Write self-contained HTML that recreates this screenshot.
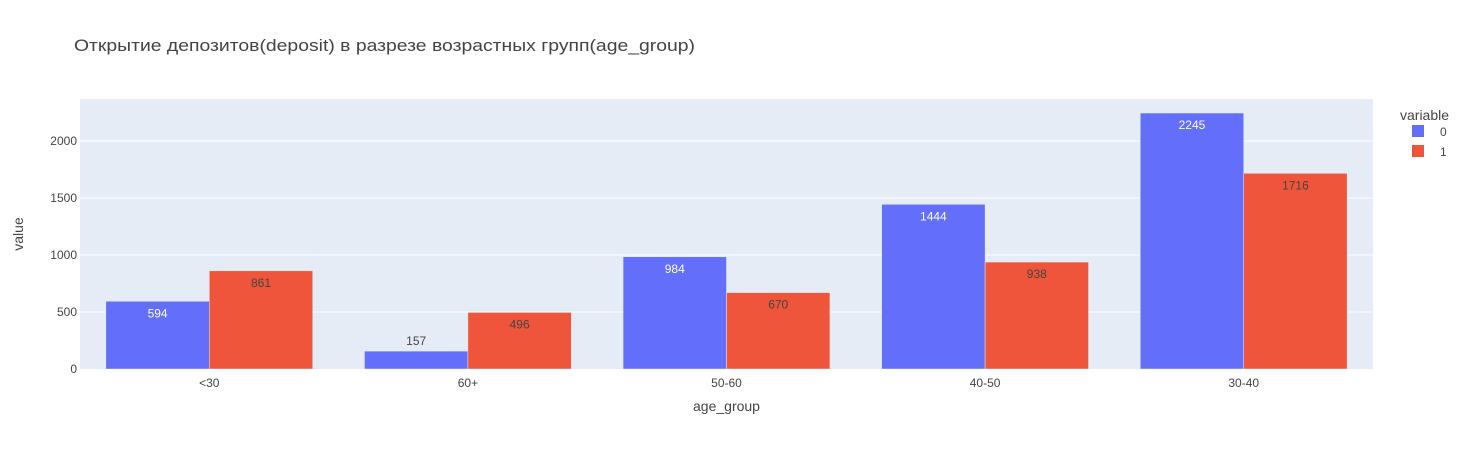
<!DOCTYPE html>
<html><head><meta charset="utf-8"><style>
body{margin:0;background:#fff;}
svg text{font-family:"Liberation Sans","DejaVu Sans",sans-serif;}
</style></head><body>
<svg id="chart" width="1471" height="450" xmlns="http://www.w3.org/2000/svg">
<rect width="1471" height="450" fill="#fff"/>
<text x="74" y="51" font-size="17" fill="#444" textLength="621" lengthAdjust="spacingAndGlyphs">Открытие депозитов(deposit) в разрезе возрастных групп(age_group)</text>
<rect x="80" y="99" width="1293" height="270" fill="#e5ecf6"/>
<g id="grid"></g>
<g id="bars"></g>
<g id="labels"></g>
<text x="726.5" y="411" font-size="14" fill="#444" text-anchor="middle">age_group</text>
<text transform="translate(23,234) rotate(-90)" font-size="14" fill="#444" text-anchor="middle">value</text>
<g>
<text x="1400" y="120" font-size="14" fill="#444">variable</text>
<g><rect x="1412" y="125" width="12" height="12" fill="#636efa"/><text x="1440" y="136" font-size="12" fill="#444">0</text></g>
<g><rect x="1412" y="145" width="12" height="12" fill="#ef553b"/><text x="1440" y="156" font-size="12" fill="#444">1</text></g>
</g>
</svg>
<script>
const categories = ["<30","60+","50-60","40-50","30-40"];
const series0 = [594,157,984,1444,2245];
const series1 = [861,496,670,938,1716];
const yTicks = [0,500,1000,1500,2000];

const NS="http://www.w3.org/2000/svg";
const x0=80, x1=1373, yBase=369, yTop=99, yMax=2368;
const band=(x1-x0)/categories.length;
function xCenter(i){return x0+band*(i+0.5);}
function yScale(v){return yBase-(v/yMax)*(yBase-yTop);}
function mk(tag,attrs,parent){const e=document.createElementNS(NS,tag);for(const k in attrs)e.setAttribute(k,attrs[k]);parent.appendChild(e);return e;}
const grid=document.getElementById('grid'), bars=document.getElementById('bars'), labels=document.getElementById('labels');
yTicks.forEach(t=>{
  const y=yScale(t);
  if(t>0){const l=mk('line',{x1:x0,x2:x1,y1:y,y2:y,stroke:'#fff','stroke-width':1},grid);
  
  }
  const tx=mk('text',{x:x0-3,y:y+4,'font-size':12,fill:'#444','text-anchor':'end'},grid);
  tx.textContent=t;
  
  
});
categories.forEach((c,i)=>{
  const tx=mk('text',{x:xCenter(i),y:yBase+18,'font-size':12,fill:'#444','text-anchor':'middle'},labels);
  tx.textContent=c;
  
  
});
const gw=band*0.8, bw=gw/2;
[[series0,'#636efa','#fff'],[series1,'#ef553b','#444']].forEach((s,si)=>{
  s[0].forEach((v,i)=>{
    const x=xCenter(i)-gw/2+si*bw, y=yScale(v);
    const r=mk('rect',{x:x,y:y,width:bw,height:yBase-y,fill:s[1],stroke:'#e5ecf6','stroke-width':0.5},bars);
    
    
    const h=yBase-y, inside=h>25;
    const tx=mk('text',{x:x+bw/2,y:inside?y+16:y-6,'font-size':12,fill:inside?s[2]:'#444','text-anchor':'middle'},labels);
    tx.textContent=v;
    
    
  });
});
</script>
</body></html>
